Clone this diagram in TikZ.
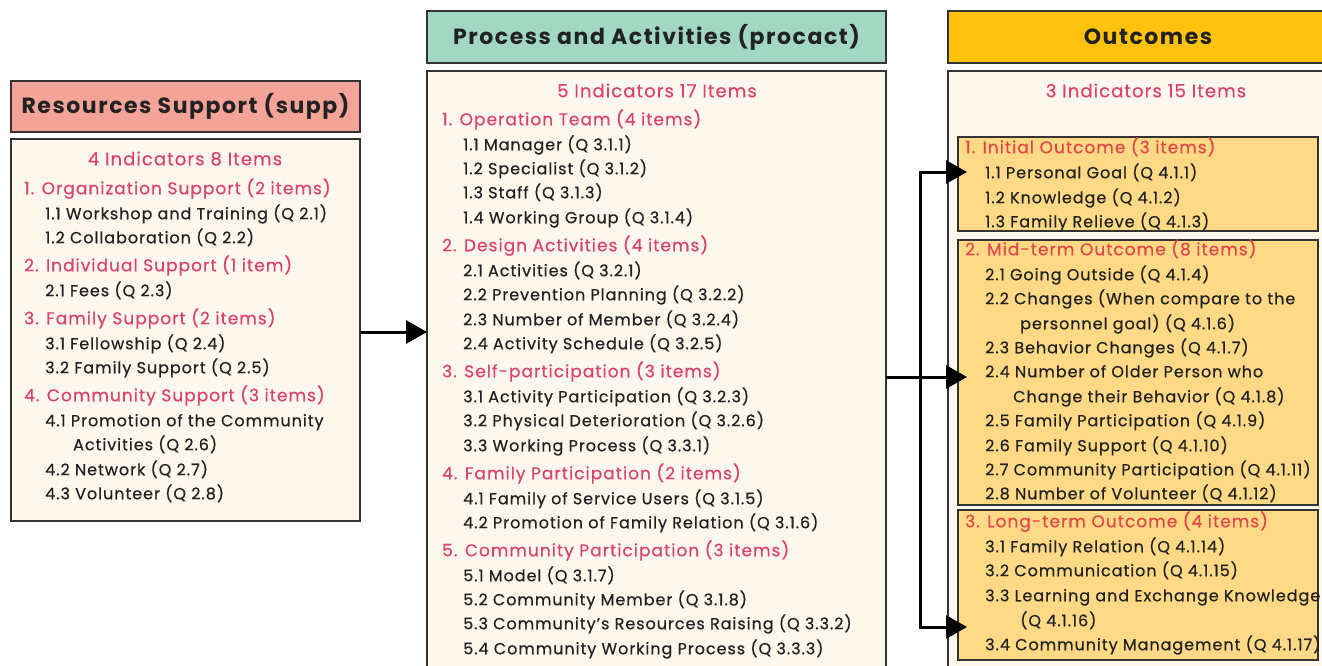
\documentclass[tikz,border=0pt]{standalone}
\usepackage{fontspec}
\setmainfont{Poppins}
\newfontfamily\itemfont[LetterSpace=6,FakeBold=0.6]{Poppins}
\newfontfamily\catfont[LetterSpace=6,FakeBold=0.4]{Poppins}
\newfontfamily\hdrfont[LetterSpace=7]{Poppins}
\usetikzlibrary{arrows.meta}
\definecolor{salmon}{HTML}{F3A397}
\definecolor{mint}{HTML}{A2D8C3}
\definecolor{amber}{HTML}{FFC20E}
\definecolor{cream}{HTML}{FDF7EC}
\definecolor{gold}{HTML}{FFD985}
\definecolor{pinkhd}{HTML}{D9436C}
\definecolor{redhd}{HTML}{E24848}
\definecolor{edge}{HTML}{333333}
\definecolor{ink}{HTML}{222222}
\begin{document}
\begin{tikzpicture}[x=1pt,y=-1pt,
  box/.style={draw=edge, line width=2pt, inner sep=0pt, outer sep=0pt},
  hdr/.style={box, font=\hdrfont\fontsize{22}{22}\selectfont\bfseries, text=ink},
  item/.style={anchor=west, inner sep=0pt, font=\itemfont\fontsize{16}{16}\selectfont, text=ink, text height=14pt, text depth=1.5pt},
  cat/.style={item, font=\catfont\fontsize{17}{17}\selectfont, text=pinkhd},
  ocat/.style={cat, text=redhd},
  ind/.style={item, anchor=center, font=\catfont\fontsize{18}{18}\selectfont, text=pinkhd},
  conn/.style={line width=3pt, draw=black, line join=miter},
  tip/.style={-{Triangle[length=21pt,width=23pt]}}
]
\clip (0,0) rectangle (1322,666);
\fill[white] (0,0) rectangle (1322,666);
% boxes
\node[hdr, fill=salmon, minimum width=349pt, minimum height=51pt] (lh) at (185.5,106.5) {Resources Support (supp)};
\node[box, fill=cream, minimum width=349pt, minimum height=382pt] (lb) at (185.5,330) {};
\node[hdr, fill=mint, minimum width=459pt, minimum height=52pt] (mh) at (656.5,37) {Process and Activities (procact)};
\node[box, fill=cream, minimum width=459pt, minimum height=629pt, anchor=north] (mb) at (656.5,71) {};
\node[hdr, fill=amber, minimum width=400pt, minimum height=52pt] (rh) at (1148,37) {Outcomes};
\node[box, fill=cream, minimum width=400pt, minimum height=629pt, anchor=north] (rb) at (1148,71) {};
\node[box, fill=gold, minimum width=360pt, minimum height=94pt, anchor=north west] (o1) at (958,137) {};
\node[box, fill=gold, minimum width=360pt, minimum height=265pt, anchor=north west] (o2) at (958,240) {};
\node[box, fill=gold, minimum width=360pt, minimum height=150pt, anchor=north west] (o3) at (958,510) {};
% left texts
\node[ind] (l0) at (185,159) {4 Indicators 8 Items};
\node[cat] (l1) at (24,188) {1. Organization Support (2 items)};
\node[item] (l2) at (45,213) {1.1 Workshop and Training (Q 2.1)};
\node[item] (l3) at (45,237) {1.2 Collaboration (Q 2.2)};
\node[cat] (l4) at (24,265) {2. Individual Support (1 item)};
\node[item] (l5) at (45,290) {2.1 Fees (Q 2.3)};
\node[cat] (l6) at (24,318) {3. Family Support (2 items)};
\node[item] (l7) at (45,343) {3.1 Fellowship (Q 2.4)};
\node[item] (l8) at (45,367) {3.2 Family Support (Q 2.5)};
\node[cat] (l9) at (24,395) {4. Community Support (3 items)};
\node[item] (l10) at (45,420) {4.1 Promotion of the Community};
\node[item] (l11) at (73,444) {Activities (Q 2.6)};
\node[item] (l12) at (45,469) {4.2 Network (Q 2.7)};
\node[item] (l13) at (45,493) {4.3 Volunteer (Q 2.8)};
% middle texts
\node[ind] (m0) at (657,91) {5 Indicators 17 Items};
\node[cat] (m1) at (442,119) {1. Operation Team (4 items)};
\node[item] (m2) at (463,144) {1.1 Manager (Q 3.1.1)};
\node[item] (m3) at (463,168) {1.2 Specialist (Q 3.1.2)};
\node[item] (m4) at (463,192) {1.3 Staff (Q 3.1.3)};
\node[item] (m5) at (463,217) {1.4 Working Group (Q 3.1.4)};
\node[cat] (m6) at (442,245) {2. Design Activities (4 items)};
\node[item] (m7) at (463,270) {2.1 Activities (Q 3.2.1)};
\node[item] (m8) at (463,294) {2.2 Prevention Planning (Q 3.2.2)};
\node[item] (m9) at (463,319) {2.3 Number of Member (Q 3.2.4)};
\node[item] (m10) at (463,343) {2.4 Activity Schedule (Q 3.2.5)};
\node[cat] (m11) at (442,371) {3. Self-participation (3 items)};
\node[item] (m12) at (463,396) {3.1 Activity Participation (Q 3.2.3)};
\node[item] (m13) at (463,420) {3.2 Physical Deterioration (Q 3.2.6)};
\node[item] (m14) at (463,445) {3.3 Working Process (Q 3.3.1)};
\node[cat] (m15) at (442,473) {4. Family Participation (2 items)};
\node[item] (m16) at (463,498) {4.1 Family of Service Users (Q 3.1.5)};
\node[item] (m17) at (463,522) {4.2 Promotion of Family Relation (Q 3.1.6)};
\node[cat] (m18) at (442,550) {5. Community Participation (3 items)};
\node[item] (m19) at (463,575) {5.1 Model (Q 3.1.7)};
\node[item] (m20) at (463,599) {5.2 Community Member (Q 3.1.8)};
\node[item] (m21) at (463,623) {5.3 Community’s Resources Raising (Q 3.3.2)};
\node[item] (m22) at (463,648) {5.4 Community Working Process (Q 3.3.3)};
% right texts
\node[ind] (r0) at (1146,91) {3 Indicators 15 Items};
\node[ocat] (r1) at (965,147) {1. Initial Outcome (3 items)};
\node[item] (r2) at (985,172) {1.1 Personal Goal (Q 4.1.1)};
\node[item] (r3) at (985,197) {1.2 Knowledge (Q 4.1.2)};
\node[item] (r4) at (985,221) {1.3 Family Relieve (Q 4.1.3)};
\node[ocat] (r5) at (965,249) {2. Mid-term Outcome (8 items)};
\node[item] (r6) at (985,274) {2.1 Going Outside (Q 4.1.4)};
\node[item] (r7) at (985,298) {2.2 Changes (When compare to the};
\node[item] (r8) at (1020,323) {personnel goal) (Q 4.1.6)};
\node[item] (r9) at (985,347) {2.3 Behavior Changes (Q 4.1.7)};
\node[item] (r10) at (985,371) {2.4 Number of Older Person who};
\node[item] (r11) at (1013,396) {Change their Behavior (Q 4.1.8)};
\node[item] (r12) at (985,420) {2.5 Family Participation (Q 4.1.9)};
\node[item] (r13) at (985,445) {2.6 Family Support (Q 4.1.10)};
\node[item] (r14) at (985,469) {2.7 Community Participation (Q 4.1.11)};
\node[item] (r15) at (985,493) {2.8 Number of Volunteer (Q 4.1.12)};
\node[ocat] (r16) at (965,521) {3. Long-term Outcome (4 items)};
\node[item] (r17) at (985,546) {3.1 Family Relation (Q 4.1.14)};
\node[item] (r18) at (985,570) {3.2 Communication (Q 4.1.15)};
\node[item] (r19) at (985,595) {3.3 Learning and Exchange Knowledge};
\node[item] (r20) at (1020,620) {(Q 4.1.16)};
\node[item] (r21) at (985,644) {3.4 Community Management (Q 4.1.17)};
% connectors
\coordinate (a1) at (360,332);
\coordinate (jm) at (920,377);
\coordinate (jt) at (920,172);
\coordinate (jb) at (920,627);
\draw[conn, tip] (lb.east |- a1) -- (mb.west |- a1);
\draw[conn, tip, shorten >=-9pt] (mb.east |- jm) -- (o2.west |- jm);
\draw[conn, {Triangle[length=21pt,width=23pt]}-{Triangle[length=21pt,width=23pt]}, shorten <=-9pt, shorten >=-9pt] (o1.west |- jt) -- (jt) -- (jb) -- (o3.west |- jb);
\end{tikzpicture}
\end{document}
